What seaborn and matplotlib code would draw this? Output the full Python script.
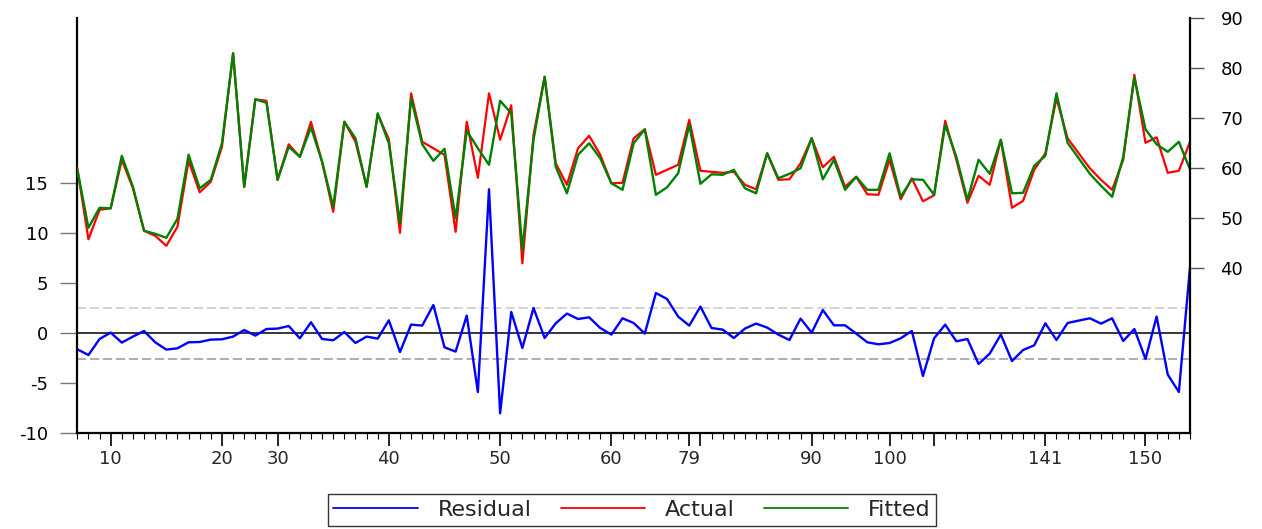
import matplotlib.pyplot as plt
import seaborn as sns
from matplotlib.lines import Line2D

obs = list(range(101))

residual = [-1.6, -2.17, -0.57, 0.07, -0.93, -0.33, 0.23, -0.9, -1.63, -1.5,
            -0.9, -0.87, -0.63, -0.6, -0.33, 0.33, -0.23, 0.43, 0.47, 0.73,
            -0.5, 1.1, -0.57, -0.7, 0.13, -0.97, -0.33, -0.53, 1.3, -1.87,
            0.87, 0.77, 2.83, -1.4, -1.83, 1.77, -5.87, 14.4, -8.0, 2.13,
            -1.47, 2.53, -0.47, 1.0, 1.97, 1.43, 1.6, 0.53, -0.13, 1.5,
            1.03, -0.03, 4.03, 3.43, 1.67, 0.77, 2.67, 0.53, 0.37, -0.47,
            0.47, 0.97, 0.57, -0.13, -0.67, 1.47, 0.07, 2.33, 0.8, 0.8,
            -0.03, -0.9, -1.1, -0.97, -0.5, 0.23, -4.27, -0.5, 0.87, -0.8,
            -0.57, -3.07, -2.03, -0.13, -2.77, -1.67, -1.2, 1.0, -0.67, 1.03,
            1.27, 1.5, 0.97, 1.5, -0.77, 0.43, -2.57, 1.67, -4.13, -5.87,
            6.6]

actual = [60.0, 45.8, 51.7, 52.0, 61.7, 56.0, 47.5, 46.5, 44.5, 48.3,
          61.5, 55.2, 57.3, 64.3, 83.0, 56.3, 73.8, 73.5, 57.7, 64.8,
          62.3, 69.3, 61.3, 51.3, 69.3, 65.3, 56.3, 70.8, 65.8, 47.1,
          75.0, 65.3, 64.0, 62.7, 47.3, 69.3, 58.1, 75.0, 65.7, 72.6,
          41.0, 66.7, 78.3, 61.0, 56.7, 64.0, 66.5, 62.7, 57.0, 57.1,
          66.0, 67.8, 58.7, 59.7, 60.7, 69.7, 59.5, 59.3, 59.1, 59.3,
          56.7, 55.8, 63.0, 57.7, 57.8, 61.0, 66.0, 60.2, 62.3, 56.3,
          58.3, 54.8, 54.7, 61.7, 53.8, 58.0, 53.4, 54.6, 69.5, 61.7,
          53.1, 58.5, 56.7, 65.7, 52.1, 53.5, 59.7, 63.0, 74.0, 66.0,
          63.0, 60.0, 57.7, 55.7, 61.7, 78.7, 65.1, 66.2, 59.1, 59.5,
          65.3]

fitted = [59.8, 48.1, 52.1, 52.0, 62.5, 56.3, 47.5, 46.9, 46.1, 49.9,
          62.7, 56.0, 57.7, 65.0, 83.0, 56.3, 73.8, 73.1, 57.7, 64.3,
          62.3, 68.2, 61.3, 52.3, 69.3, 66.0, 56.3, 71.0, 65.0, 49.1,
          74.0, 64.8, 61.5, 63.9, 50.0, 67.5, 64.0, 60.7, 73.5, 71.0,
          43.7, 65.7, 78.3, 60.3, 55.0, 62.7, 65.0, 62.0, 57.0, 55.7,
          65.0, 67.8, 54.7, 56.2, 59.0, 68.7, 56.9, 58.8, 58.7, 59.7,
          56.0, 55.0, 63.0, 58.0, 58.9, 60.0, 66.0, 57.8, 61.7, 55.7,
          58.3, 55.7, 55.7, 63.0, 54.3, 57.8, 57.7, 54.7, 68.7, 62.3,
          53.7, 61.7, 58.9, 65.7, 55.0, 55.1, 60.5, 62.5, 75.0, 65.1,
          62.0, 58.9, 56.5, 54.3, 62.3, 78.1, 67.8, 64.8, 63.3, 65.3,
          59.8]

tick_pos = [3, 13, 18, 28, 38, 48, 55, 56, 66, 73, 77, 87, 96]
tick_lab = ['10', '20', '30', '40', '50', '60', '79', '', '90', '100', '', '141', '150']
se = 2.53

sns.set_theme(style="white")
plt.rcParams['font.family'] = ['DejaVu Sans']
plt.rcParams['axes.unicode_minus'] = False

fig = plt.figure(figsize=(12.62, 5.29), dpi=100)
ax = fig.add_axes([77.3 / 1262, (529 - 433.3) / 529, (1190 - 77.3) / 1262, (433.3 - 18.3) / 529])
ax2 = ax.twinx()

# residual on the left scale
ax.axhline(0, color='black', lw=1.1)
ax.axhline(se, color='#c8c8c8', lw=1.1, ls=(0, (6, 2.5)))
ax.axhline(-se, color='#999999', lw=1.1, ls=(0, (6, 2.5)))
sns.lineplot(x=obs, y=residual, ax=ax, color='#0000ff', lw=1.7)

# actual / fitted on the right scale
sns.lineplot(x=obs, y=actual, ax=ax2, color='#ff0000', lw=1.6)
sns.lineplot(x=obs, y=fitted, ax=ax2, color='#008000', lw=1.7)

ax.set_xlim(0, 100)
ax.set_ylim(-10, 31.5)
ax2.set_ylim(7, 90)
ax.set_yticks([-10, -5, 0, 5, 10, 15])
ax2.set_yticks([40, 50, 60, 70, 80, 90])
ax.set_xticks(tick_pos, tick_lab)
ax.set_xticks(obs, minor=True)
ax.set_xlabel('')
ax.set_ylabel('')
ax2.set_ylabel('')

for a in (ax, ax2):
    for s in a.spines.values():
        s.set_color('black')
        s.set_linewidth(1.6)
    a.spines['top'].set_visible(False)
ax.spines['right'].set_visible(False)
ax2.spines['left'].set_visible(False)
ax2.spines['bottom'].set_visible(False)

ax.tick_params(axis='y', left=True, length=12, width=1, color='#777777',
               pad=9, labelsize=13, labelcolor='black')
ax2.tick_params(axis='y', right=True, length=10, width=1, color='#555555',
                pad=12, labelsize=13, labelcolor='black')
ax.tick_params(axis='x', which='major', bottom=True, length=9, width=1.2,
               color='black', pad=3, labelsize=13)
ax.tick_params(axis='x', which='minor', bottom=True, length=4.5, width=0.8,
               color='black')

handles = [Line2D([], [], color='#0000ff', lw=1.3),
           Line2D([], [], color='#ff0000', lw=1.3),
           Line2D([], [], color='#008000', lw=1.3)]
leg = fig.legend(handles, ['Residual', 'Actual', 'Fitted'], loc='center',
                 bbox_to_anchor=(632 / 1262, 19 / 529), ncol=3, frameon=True,
                 fancybox=False, edgecolor='black', fontsize=16,
                 handlelength=3.8, columnspacing=1.3, borderpad=0.25,
                 handletextpad=0.9, borderaxespad=0.2)
leg.get_frame().set_linewidth(1.0)

fig.savefig('out.png', dpi=100)
